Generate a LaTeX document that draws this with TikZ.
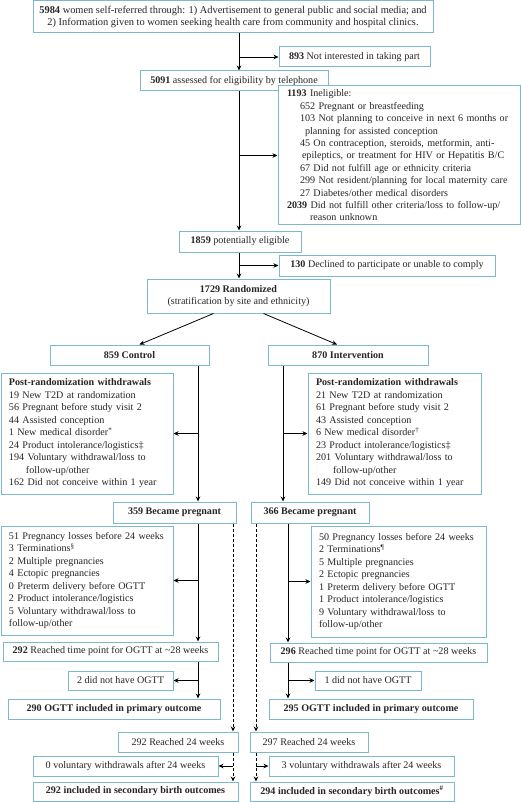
\documentclass[tikz,border=0pt]{standalone}
\usepackage{fontspec}
\setmainfont{Liberation Serif}
\usetikzlibrary{arrows.meta}
\definecolor{boxc}{HTML}{7DB9CD}
\newcommand\bx[7]{%
 \pgfmathsetmacro\bxcx{(#2+#4)/2}\pgfmathsetmacro\bxcy{(#3+#5)/2}%
 \pgfmathsetmacro\bxw{#4-#2}\pgfmathsetmacro\bxh{#5-#3}%
 \node[box,minimum width=\bxw pt,minimum height=\bxh pt,#6] (#1) at (\bxcx,\bxcy) {#7};}
\newcommand\lbx[7]{%
 \pgfmathsetmacro\bxcx{(#2+#4)/2}\pgfmathsetmacro\bxcy{(#3+#5)/2}%
 \pgfmathsetmacro\bxw{#4-#2-16}\pgfmathsetmacro\bxh{#5-#3}%
 \node[box,inner xsep=8pt,text width=\bxw pt,align=left,minimum height=\bxh pt,#6] (#1) at (\bxcx,\bxcy) {#7};}
\begin{document}
\begin{tikzpicture}[x=1pt,y=-1pt,
 box/.style={draw=boxc,line width=1pt,inner xsep=0pt,inner ysep=0pt,font=\fontsize{10.1}{12.4}\selectfont,fill=white,text=black!85},
 arr/.style={-{Stealth[length=5pt,width=4.5pt]},line width=0.8pt},
 ln/.style={line width=0.8pt},
 dsh/.style={line width=0.9pt,dash pattern=on 3pt off 2pt}]
\useasboundingbox (0,0) rectangle (520,802);
\coordinate (mx) at (239,0);
\coordinate (cx) at (198,0);
\coordinate (ix) at (283,0);
\coordinate (ixb) at (288,0);
\coordinate (dl) at (233,0);
\coordinate (dr) at (256,0);

\bx{b1}{33}{1}{433}{33}{align=center,font=\fontsize{10.4}{12.8}\selectfont}{\textbf{5984} women self-referred through: 1) Advertisement to general public and social media; and\\ 2) Information given to women seeking health care from community and hospital clinics.}
\bx{b893}{279}{47}{430}{67}{}{\textbf{893} Not interested in taking part}
\bx{b5091}{140}{71}{328}{91}{}{\textbf{5091} assessed for eligibility by telephone}
\lbx{b1193}{279}{86}{519}{225}{inner xsep=9pt}{\textbf{1193} Ineligible:\\
\hspace*{13pt}652 Pregnant or breastfeeding\\
\hspace*{13pt}103 Not planning to conceive in next 6 months or\\
\hspace*{18pt}planning for assisted conception\\
\hspace*{13pt}45 On contraception, steroids, metformin, anti-\\
\hspace*{15pt}epileptics, or treatment for HIV or Hepatitis B/C\\
\hspace*{13pt}67 Did not fulfill age or ethnicity criteria\\
\hspace*{13pt}299 Not resident/planning for local maternity care\\
\hspace*{13pt}27 Diabetes/other medical disorders\\
\textbf{2039} Did not fulfill other criteria/loss to follow-up/\\
\hspace*{23pt}reason unknown}
\bx{b1859}{179}{231}{301}{252}{}{\textbf{1859} potentially eligible}
\bx{b130}{279}{255}{495}{276}{}{\textbf{130} Declined to participate or unable to comply}
\bx{b1729}{147}{279}{330}{313}{align=center}{\textbf{1729 Randomized}\\(stratification by site and ethnicity)}
\bx{bctrl}{50}{345}{209}{365}{}{\textbf{859 Control}}
\bx{bint}{268}{345}{428}{365}{}{\textbf{870 Intervention}}
\lbx{bwl}{1}{373}{173}{494}{font=\fontsize{10.1}{12.5}\selectfont}{\textbf{Post-randomization withdrawals}\\
19 New T2D at randomization\\
56 Pregnant before study visit 2\\
44 Assisted conception\\
1 New medical disorder\textsuperscript{*}\\
24 Product intolerance/logistics‡\\
194 Voluntary withdrawal/loss to\\
\hspace*{17pt}follow-up/other\\
162 Did not conceive within 1 year}
\lbx{bwr}{308}{373}{481}{494}{font=\fontsize{10.1}{12.5}\selectfont}{\textbf{Post-randomization withdrawals}\\
21 New T2D at randomization\\
61 Pregnant before study visit 2\\
43 Assisted conception\\
6 New medical disorder\textsuperscript{†}\\
23 Product intolerance/logistics‡\\
201 Voluntary withdrawal/loss to\\
\hspace*{17pt}follow-up/other\\
149 Did not conceive within 1 year}
\bx{b359}{113}{502}{236}{523}{}{\textbf{359 Became pregnant}}
\bx{b366}{251}{502}{369}{523}{}{\textbf{366 Became pregnant}}
\lbx{bpl}{1}{526}{173}{635}{font=\fontsize{10.1}{12.5}\selectfont}{51 Pregnancy losses before 24 weeks\\
3 Terminations\textsuperscript{§}\\
2 Multiple pregnancies\\
4 Ectopic pregnancies\\
0 Preterm delivery before OGTT\\
2 Product intolerance/logistics\\
5 Voluntary withdrawal/loss to\\
follow-up/other}
\lbx{bpr}{311}{526}{486}{637}{font=\fontsize{10.1}{12.5}\selectfont}{50 Pregnancy losses before 24 weeks\\
2 Terminations\textsuperscript{¶}\\
5 Multiple pregnancies\\
2 Ectopic pregnancies\\
1 Preterm delivery before OGTT\\
1 Product intolerance/logistics\\
9 Voluntary withdrawal/loss to\\
follow-up/other}
\bx{b292o}{3}{642}{218}{661}{}{\textbf{292} Reached time point for OGTT at \textasciitilde28 weeks}
\bx{b296o}{270}{643}{487}{662}{}{\textbf{296} Reached time point for OGTT at \textasciitilde28 weeks}
\bx{b2no}{68}{671}{173}{690}{}{2 did not have OGTT}
\bx{b1no}{315}{671}{421}{690}{}{1 did not have OGTT}
\bx{b290}{8}{699}{220}{719}{}{\textbf{290 OGTT included in primary outcome}}
\bx{b295}{269}{699}{473}{719}{}{\textbf{295 OGTT included in primary outcome}}
\bx{b292r}{118}{732}{238}{752}{}{292 Reached 24 weeks}
\bx{b297r}{250}{732}{368}{752}{}{297 Reached 24 weeks}
\bx{b0v}{33}{756}{218}{776}{}{0 voluntary withdrawals after 24 weeks}
\bx{b3v}{269}{756}{454}{776}{}{3 voluntary withdrawals after 24 weeks}
\bx{b292i}{33}{782}{238}{801}{}{\textbf{292 included in secondary birth outcomes}}
\bx{b294i}{250}{782}{454}{801}{}{\textbf{294 included in secondary birth outcomes\textsuperscript{\#}}}

% main column
\draw[arr] (b1.south -| mx) -- (b5091.north -| mx);
\draw[arr] (mx |- b893.west) -- (b893.west);
\draw[arr] (b5091.south -| mx) -- (b1859.north -| mx);
\draw[arr] (mx |- b1193.west) -- (b1193.west);
\draw[arr] (b1859.south -| mx) -- (b1729.north -| mx);
\draw[arr] (mx |- b130.west) -- (b130.west);
\draw[arr] ([xshift=-25pt]b1729.south) -- ([xshift=10pt]bctrl.north);
\draw[arr] ([xshift=25pt]b1729.south) -- ([xshift=-11pt]bint.north);
% control
\draw[arr] (bctrl.south -| cx) -- (b359.north -| cx);
\draw[arr] (cx |- bwl.east) -- (bwl.east);
\draw[arr] (b359.south -| cx) -- (b292o.north -| cx);
\draw[arr] (cx |- bpl.east) -- (bpl.east);
\draw[arr] (b292o.south -| cx) -- (b290.north -| cx);
\draw[arr] (cx |- b2no.east) -- (b2no.east);
% intervention
\draw[arr] (bint.south -| ix) -- (b366.north -| ix);
\draw[arr] (ix |- bwr.west) -- (bwr.west);
\draw[arr] (b366.south -| ixb) -- (b296o.north -| ixb);
\draw[arr] (ixb |- bpr.west) -- (bpr.west);
\draw[arr] (b296o.south -| ixb) -- (b295.north -| ixb);
\draw[arr] (ixb |- b1no.west) -- (b1no.west);
% dashed
\draw[arr,dsh] (b359.south -| dl) -- (b292r.north -| dl);
\draw[arr,dsh] (b366.south -| dr) -- (b297r.north -| dr);
\draw[arr,dsh] (b292r.south -| dl) -- (b292i.north -| dl);
\draw[arr] (dl |- b0v.east) -- (b0v.east);
\draw[arr,dsh] (b297r.south -| dr) -- (b294i.north -| dr);
\draw[arr] (dr |- b3v.west) -- (b3v.west);
\end{tikzpicture}
\end{document}
